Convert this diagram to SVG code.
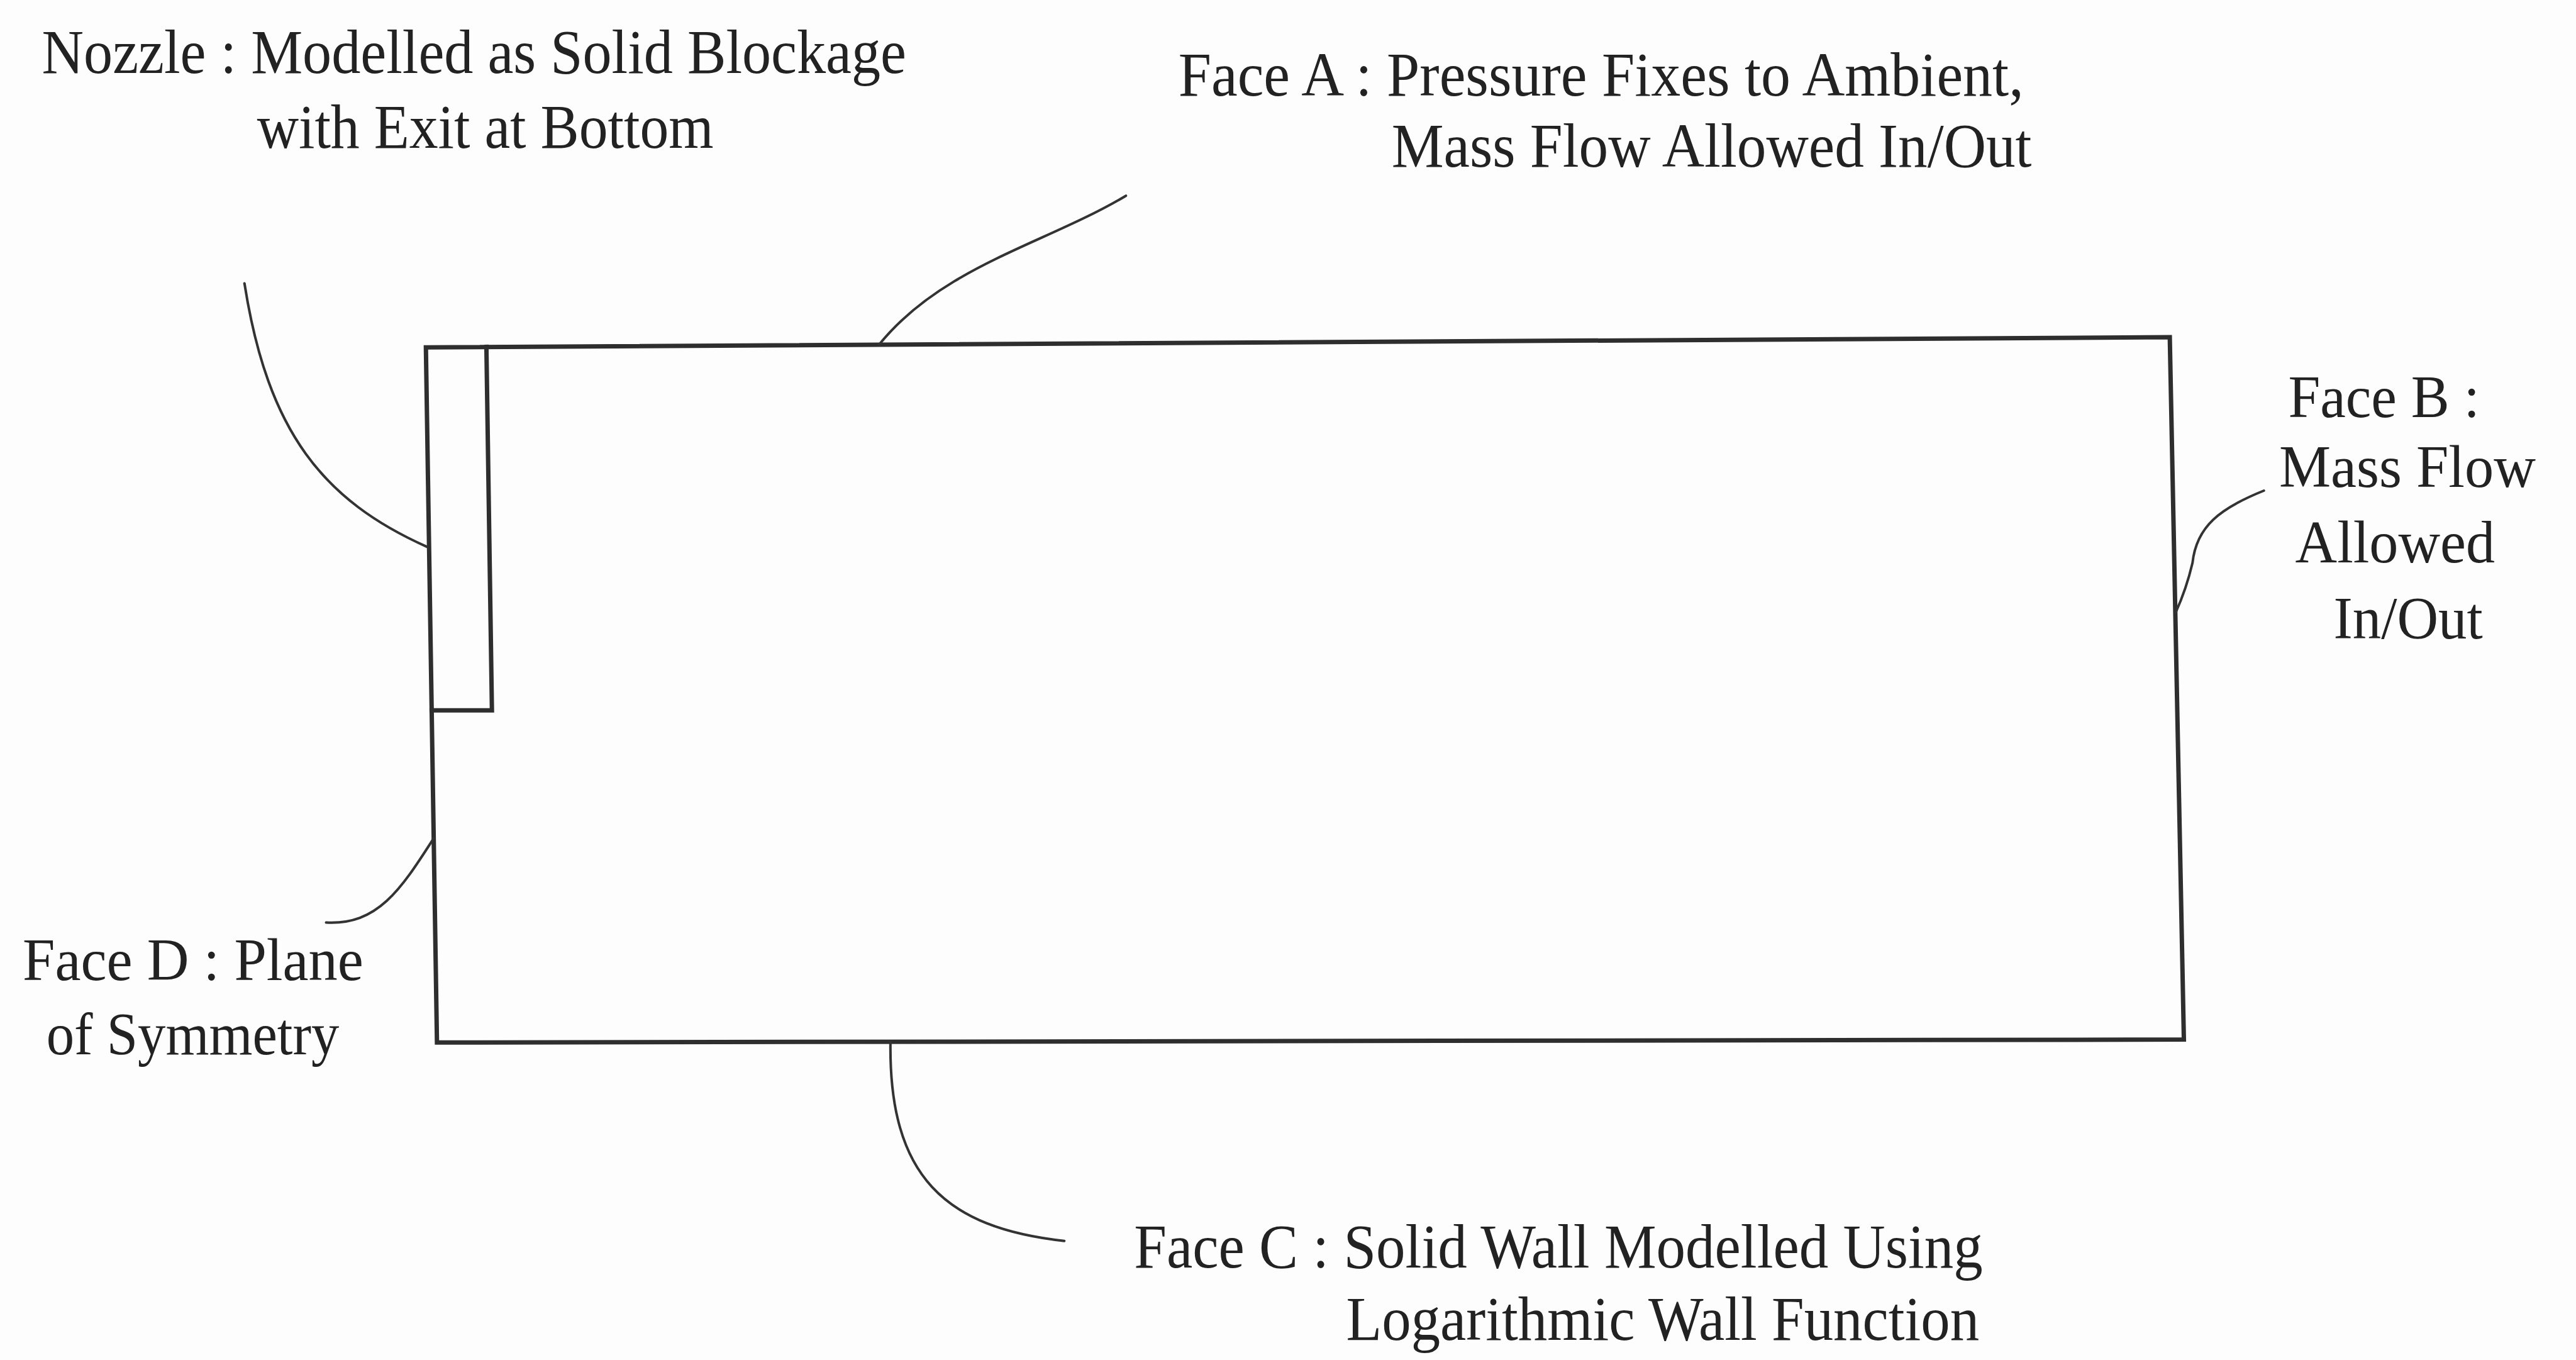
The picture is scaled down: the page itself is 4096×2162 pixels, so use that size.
<svg xmlns="http://www.w3.org/2000/svg" width="4096" height="2162" viewBox="0 0 4096 2162">
  <style>
    .edge { fill: none; stroke: #2e2e2e; stroke-width: 7; stroke-linejoin: miter; stroke-linecap: square; }
    .lead { fill: none; stroke: #333; stroke-width: 4; stroke-linecap: round; }
    .lbl { font-family: "Liberation Serif", "Times New Roman", serif; font-size: 96px; fill: #222; }
    .tall { font-size: 100px; }
  </style>

  <rect x="0" y="0" width="4096" height="2162" fill="#fdfdfd"/>

  <!-- computational domain -->
  <g id="domain">
    <polygon class="edge" points="677.2,552.2 3450.1,536.1 3472.5,1652.6 694.8,1657.3"/>
  </g>

  <!-- nozzle blockage in the top-left corner -->
  <g id="nozzle">
    <polyline class="edge" points="773.4,551.4 782.2,1129.2 686.4,1129.2"/>
  </g>

  <!-- leader lines from labels to faces -->
  <g id="connectors">
    <path id="lead-nozzle" class="lead" d="M388.7,450.4 C425.9,687.5 514.3,795.5 678.6,869.1"/>
    <path id="lead-face-a" class="lead" d="M1397.7,548 C1498.5,423.2 1661.5,388 1790.3,311.2"/>
    <path id="lead-face-b" class="lead" d="M3599.7,780 C3530.1,807.9 3492.4,836.7 3486.2,894.9 C3480.5,919.2 3469.8,950.9 3459.5,973.7"/>
    <path id="lead-face-c" class="lead" d="M1415.9,1656.1 C1413,1871 1503.4,1951.9 1692.3,1972.8"/>
    <path id="lead-face-d" class="lead" d="M518.5,1466.6 C600,1471 636.6,1415.5 689.6,1332.7"/>
  </g>

  <!-- labels -->
  <g id="label-nozzle" class="lbl tall">
    <text x="66.5" y="116.2" textLength="1374.5" lengthAdjust="spacingAndGlyphs">Nozzle : Modelled as Solid Blockage</text>
    <text x="408.7" y="234.8" textLength="726" lengthAdjust="spacingAndGlyphs">with Exit at Bottom</text>
  </g>

  <g id="label-face-a" class="lbl tall">
    <text x="1873.7" y="152.3" textLength="1344" lengthAdjust="spacingAndGlyphs">Face A : Pressure Fixes to Ambient,</text>
    <text x="2212.7" y="264.5" textLength="1017.8" lengthAdjust="spacingAndGlyphs">Mass Flow Allowed In/Out</text>
  </g>

  <g id="label-face-b" class="lbl">
    <text x="3638.4" y="662.8" textLength="304.5" lengthAdjust="spacingAndGlyphs">Face B :</text>
    <text x="3623.9" y="774.2" textLength="408" lengthAdjust="spacingAndGlyphs">Mass Flow</text>
    <text x="3649.6" y="894.4" textLength="317.4" lengthAdjust="spacingAndGlyphs">Allowed</text>
    <text x="3710.5" y="1014.6" textLength="237.2" lengthAdjust="spacingAndGlyphs">In/Out</text>
  </g>

  <g id="label-face-c" class="lbl tall">
    <text x="1803.2" y="2014.7" textLength="1349.6" lengthAdjust="spacingAndGlyphs">Face C : Solid Wall Modelled Using</text>
    <text x="2140.6" y="2130.1" textLength="1006.5" lengthAdjust="spacingAndGlyphs">Logarithmic Wall Function</text>
  </g>

  <g id="label-face-d" class="lbl">
    <text x="36.1" y="1557.9" textLength="541.7" lengthAdjust="spacingAndGlyphs">Face D : Plane</text>
    <text x="73.7" y="1675.8" textLength="465.6" lengthAdjust="spacingAndGlyphs">of Symmetry</text>
  </g>
</svg>
